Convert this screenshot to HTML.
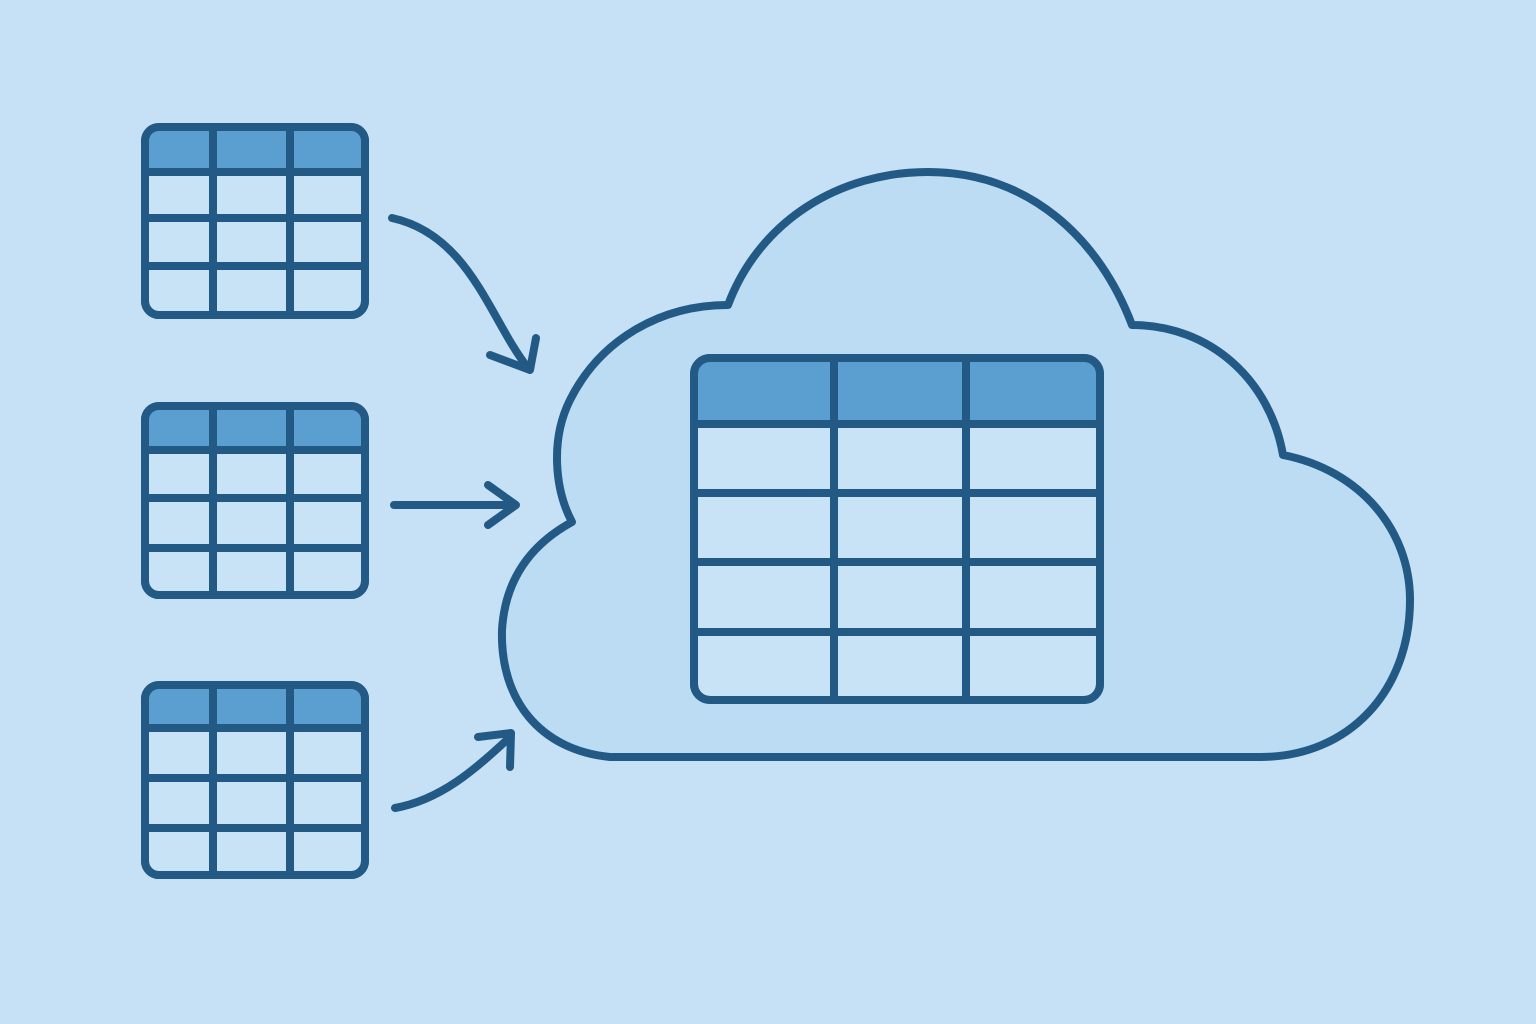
<!DOCTYPE html>
<html><head><meta charset="utf-8"><style>
html,body{margin:0;padding:0;background:#c6e1f5;}
svg{display:block}
</style></head><body>
<svg width="1536" height="1024" viewBox="0 0 1536 1024" xmlns="http://www.w3.org/2000/svg">
<rect width="1536" height="1024" fill="#c6e1f5"/>
<g fill="none" stroke="#225a85" stroke-width="8" stroke-linecap="round" stroke-linejoin="round">
<path d="M610 757 C540 750 500 700 502 630 C505 580 530 545 572 522 C555 490 550 440 570 400 C600 340 660 305 728 305 C760 220 840 172 928 172 C1030 172 1100 240 1132 325 C1210 325 1270 380 1283 455 C1360 470 1410 530 1410 600 C1410 690 1350 757 1260 757 Z" fill="#bbdcf3"/>
<path d="M392 218 C470 235 490 320 528 368"/>
<path d="M490 355 L530 370 L536 338"/>
<path d="M394 505 L515 505"/>
<path d="M488 485 L516 505 L488 525"/>
<path d="M395 808 C440 800 475 770 510 737"/>
<path d="M478 737 L511 733 L510 767"/>
</g>
<g stroke="#225a85" stroke-width="8">
<rect x="145" y="127" width="220" height="188" rx="14" fill="#c9e3f6"/>
<path d="M148 172 V142 a12 12 0 0 1 12 -12 H350 a12 12 0 0 1 12 12 V172 Z" fill="#5a9fd0" stroke="none"/>
<rect x="145" y="127" width="220" height="188" rx="14" fill="none"/>
<path d="M145 172 H365 M145 218 H365 M145 266 H365 M213 127 V315 M290 127 V315"/>
<rect x="145" y="406" width="220" height="189" rx="14" fill="#c9e3f6"/>
<path d="M148 450 V421 a12 12 0 0 1 12 -12 H350 a12 12 0 0 1 12 12 V450 Z" fill="#5a9fd0" stroke="none"/>
<rect x="145" y="406" width="220" height="189" rx="14" fill="none"/>
<path d="M145 450 H365 M145 498 H365 M145 548 H365 M213 406 V595 M290 406 V595"/>
<rect x="145" y="685" width="220" height="190" rx="14" fill="#c9e3f6"/>
<path d="M148 728 V700 a12 12 0 0 1 12 -12 H350 a12 12 0 0 1 12 12 V728 Z" fill="#5a9fd0" stroke="none"/>
<rect x="145" y="685" width="220" height="190" rx="14" fill="none"/>
<path d="M145 728 H365 M145 778 H365 M145 828 H365 M213 685 V875 M290 685 V875"/>
<rect x="694" y="358" width="406" height="342" rx="16" fill="#c9e3f6"/>
<path d="M697 424 V375 a14 14 0 0 1 14 -14 H1083 a14 14 0 0 1 14 14 V424 Z" fill="#5a9fd0" stroke="none"/>
<rect x="694" y="358" width="406" height="342" rx="16" fill="none"/>
<path d="M694 424 H1100 M694 493 H1100 M694 562 H1100 M694 632 H1100 M834 358 V700 M966 358 V700"/>
</g>
</svg>
</body></html>
